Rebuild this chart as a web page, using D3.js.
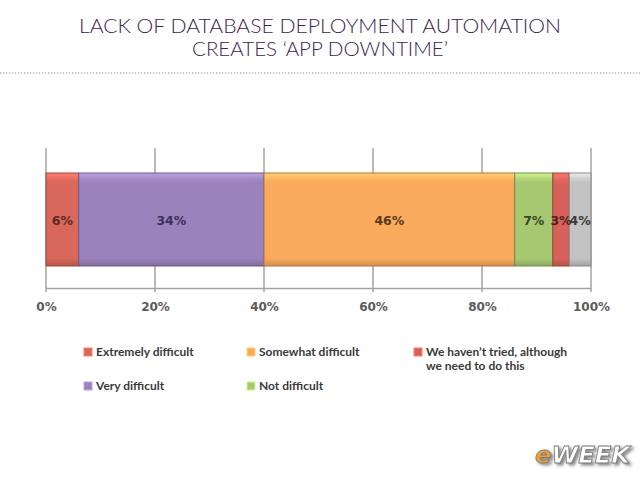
<!DOCTYPE html>
<html>
<head>
<meta charset="utf-8">
<script src="https://cdn.jsdelivr.net/npm/d3@7"></script>
<style>
  html, body { margin: 0; padding: 0; background: #ffffff; }
  svg { display: block; }
</style>
</head>
<body>
<script>
// ---- data ----
const titleLines = ["LACK OF DATABASE DEPLOYMENT AUTOMATION", "CREATES \u2018APP DOWNTIME\u2019"];
const categories = ["Extremely difficult", "Very difficult", "Somewhat difficult", "Not difficult",
                    "We haven\u2019t tried, although we need to do this", "Other"];
const values = [6, 34, 46, 7, 3, 4];
const legendCount = 5; // the grey segment has no legend entry in the source
const tickValues = [0, 20, 40, 60, 80, 100];
const tickLabels = ["0%", "20%", "40%", "60%", "80%", "100%"];

// ---- style ----
const colors = ["#D9675B", "#9A82BC", "#F9AA5C", "#A7C871", "#D8625A", "#C2C2C2"];
const labelColors = ["#5a2a24", "#3c2f5c", "#5a3a1c", "#344824", "#4a2220", "#3a3a3a"];

const W = 640, H = 480;
const svg = d3.select("body").append("svg").attr("width", W).attr("height", H);
const defs = svg.append("defs");

// Title
const titleWidths = [482, 256];
titleLines.forEach((t, i) => {
  svg.append("text")
    .attr("x", 320).attr("y", 33 + i * 22.5)
    .attr("text-anchor", "middle")
    .attr("font-family", "Lato, 'Open Sans', sans-serif")
    .attr("font-size", 19)
    .attr("font-weight", 300)
    .attr("fill", "#3b2450")
    .attr("textLength", titleWidths[i])
    .attr("lengthAdjust", "spacingAndGlyphs")
    .text(t);
});
svg.append("line")
  .attr("x1", 0).attr("x2", W).attr("y1", 73).attr("y2", 73)
  .attr("stroke", "#8a8a8a").attr("stroke-width", 1.2)
  .attr("stroke-dasharray", "1.2,1.8");

// Scales
const x = d3.scaleLinear().domain([0, 100]).range([46, 591]);
const barTop = 173, barBottom = 266;
const gridTop = 148, axisY = 288;

// gridlines
svg.append("g").selectAll("line").data(tickValues).join("line")
  .attr("x1", d => x(d)).attr("x2", d => x(d))
  .attr("y1", gridTop).attr("y2", axisY + 4)
  .attr("stroke", "#a3a3a3").attr("stroke-width", 1.5);

// axis
const axis = d3.axisBottom(x).tickValues(tickValues)
  .tickFormat((d, i) => tickLabels[i]).tickSize(0).tickPadding(14);
const axG = svg.append("g").attr("transform", `translate(0,${axisY})`).call(axis);
axG.select(".domain").attr("stroke", "#a3a3a3").attr("stroke-width", 1.5);
axG.selectAll("text")
  .attr("font-family", "'DejaVu Sans', Verdana, sans-serif")
  .attr("font-weight", "bold")
  .attr("font-size", 12)
  .attr("fill", "#5b5b5b");

// gradients for bevelled look
colors.forEach((c, i) => {
  const g = defs.append("linearGradient").attr("id", "grad" + i)
    .attr("x1", 0).attr("x2", 0).attr("y1", 0).attr("y2", 1);
  const base = d3.color(c);
  g.append("stop").attr("offset", "0%").attr("stop-color", d3.color(c).brighter(0.6));
  g.append("stop").attr("offset", "5%").attr("stop-color", d3.color(c).brighter(0.25));
  g.append("stop").attr("offset", "10%").attr("stop-color", base);
  g.append("stop").attr("offset", "92%").attr("stop-color", base);
  g.append("stop").attr("offset", "100%").attr("stop-color", d3.color(c).darker(0.5));
});

// stacked segments
const cum = d3.cumsum(values);
const segs = values.map((v, i) => ({ v, i, x0: cum[i] - v, x1: cum[i] }));
svg.append("g").selectAll("rect").data(segs).join("rect")
  .attr("x", d => x(d.x0)).attr("width", d => x(d.x1) - x(d.x0))
  .attr("y", barTop).attr("height", barBottom - barTop)
  .attr("fill", d => `url(#grad${d.i})`)
  .attr("stroke", d => d3.color(colors[d.i]).darker(1))
  .attr("stroke-width", 1);

svg.append("g").selectAll("text").data(segs).join("text")
  .attr("x", d => (x(d.x0) + x(d.x1)) / 2)
  .attr("y", (barTop + barBottom) / 2 + 1)
  .attr("dy", "0.35em")
  .attr("text-anchor", "middle")
  .attr("font-family", "'DejaVu Sans', Verdana, sans-serif")
  .attr("font-weight", "bold")
  .attr("font-size", 12.5)
  .attr("fill", d => labelColors[d.i])
  .text(d => d.v + "%");

// legend
const colX = [84, 247, 414];
const rowY = [352, 386];
const maxLegendWidth = 155;
const leg = svg.append("g").selectAll("g").data(categories.slice(0, legendCount).map((c, i) => ({ c, i })))
  .join("g")
  .attr("transform", d => `translate(${colX[Math.floor(d.i / 2)]},${rowY[d.i % 2]})`);
leg.append("rect")
  .attr("x", 0).attr("y", -4).attr("width", 8).attr("height", 8)
  .attr("fill", d => colors[d.i])
  .attr("stroke", d => d3.color(colors[d.i]).brighter(0.6)).attr("stroke-width", 1);
leg.each(function(d) {
  const g = d3.select(this);
  const words = d.c.split(" ");
  let line = [], lineNo = 0;
  let tx = g.append("text").attr("x", 12).attr("y", 0).attr("dy", "0.35em");
  const style = t => t.attr("font-family", "Lato, 'Open Sans', sans-serif")
      .attr("font-size", 12).attr("font-weight", "bold").attr("fill", "#3a3a3a");
  style(tx);
  words.forEach(w => {
    line.push(w);
    tx.text(line.join(" "));
    if (tx.node().getComputedTextLength() > maxLegendWidth && line.length > 1) {
      line.pop();
      tx.text(line.join(" "));
      line = [w];
      lineNo++;
      tx = g.append("text").attr("x", 12).attr("y", lineNo * 14).attr("dy", "0.35em").text(w);
      style(tx);
    }
  });
});

// eWEEK logo
const shadow = defs.append("filter").attr("id", "logoShadow")
  .attr("x", "-20%").attr("y", "-40%").attr("width", "150%").attr("height", "200%");
shadow.append("feDropShadow").attr("dx", 2.5).attr("dy", 2).attr("stdDeviation", 1.5)
  .attr("flood-color", "#555").attr("flood-opacity", 0.7);
const logo = svg.append("g").attr("transform", "translate(535,463)").attr("filter", "url(#logoShadow)");
logo.append("text").attr("x", 0).attr("y", 0)
  .attr("font-family", "'DejaVu Sans', sans-serif").attr("font-weight", "bold")
  .attr("font-style", "italic").attr("font-size", 23)
  .attr("stroke", "#7a7a7a").attr("stroke-width", 0.8)
  .attr("textLength", 95).attr("lengthAdjust", "spacingAndGlyphs")
  .selectAll("tspan").data([{ t: "e", c: "#F0A22E" }, { t: "WEEK", c: "#ffffff" }]).join("tspan")
  .attr("fill", d => d.c)
  .text(d => d.t);
</script>
</body>
</html>
